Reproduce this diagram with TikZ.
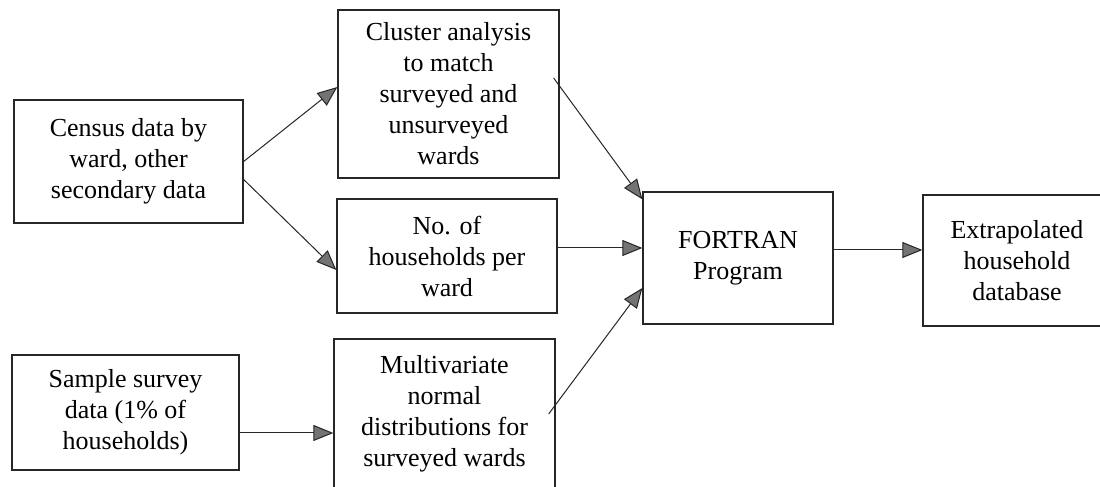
\documentclass[tikz,border=0pt]{standalone}
\usepackage{fontspec}
\setmainfont{Liberation Serif}
\usetikzlibrary{arrows.meta}
\begin{document}
\begin{tikzpicture}[x=1pt,y=1pt,
  box/.style={draw=black!85, line width=1.3pt, rectangle, inner sep=0pt, align=center,
    font=\fontsize{26}{31}\selectfont},
  arr/.style={draw=black!85, line width=1pt,
    -{Triangle[length=20pt,width=16pt,fill=black!55]}}]
\useasboundingbox (0,0) rectangle (1100,487);
\node[box, minimum width=229pt, minimum height=123pt] (census) at (128.5,325.5)
  {Census data by\\ward, other\\secondary data};
\node[box, minimum width=221pt, minimum height=168pt] (cluster) at (448.5,393)
  {Cluster analysis\\to match\\surveyed and\\unsurveyed\\wards};
\node[box, minimum width=220pt, minimum height=114pt] (nohh) at (447,231)
  {No. of\\households per\\ward};
\node[box, minimum width=221pt, minimum height=150pt] (multi) at (444.5,73)
  {Multivariate\\normal\\distributions for\\surveyed wards};
\node[box, minimum width=227pt, minimum height=115pt] (sample) at (125.5,74.5)
  {Sample survey\\data (1\% of\\households)};
\node[box, minimum width=190pt, minimum height=132pt] (fortran) at (738,229)
  {FORTRAN\\Program};
\node[box, minimum width=188pt, minimum height=131pt] (extrap) at (1017,226.5)
  {Extrapolated\\household\\database};
\draw[arr] (census.east) -- ([yshift=7pt]cluster.west);
\draw[arr] ([yshift=-18pt]census.east) -- ([yshift=-14pt]nohh.west);
\draw[arr] ([xshift=-6pt,yshift=16pt]cluster.east) -- ([yshift=-8pt]fortran.north west);
\draw[arr] ([yshift=8pt]nohh.east) -- ([yshift=10pt]fortran.west);
\draw[arr] ([xshift=-7pt]multi.east) -- ([yshift=-30pt]fortran.west);
\draw[arr] ([yshift=8pt]fortran.east) -- ([yshift=10.5pt]extrap.west);
\draw[arr] ([yshift=-20.5pt]sample.east) -- ([yshift=-19pt]multi.west);
\end{tikzpicture}
\end{document}
